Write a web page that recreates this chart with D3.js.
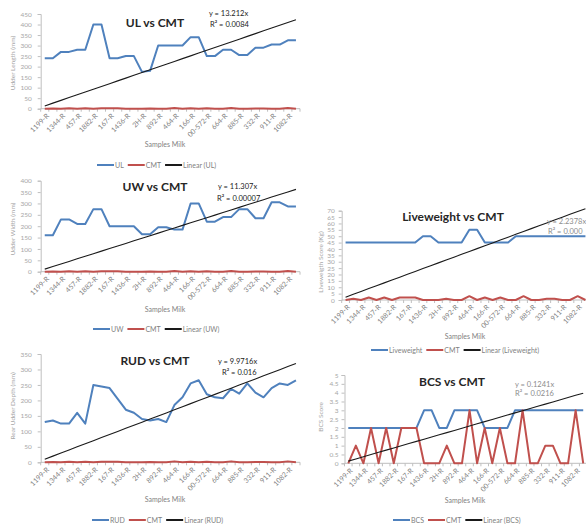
<!DOCTYPE html>
<html>
<head>
<meta charset="utf-8">
<script src="https://cdn.jsdelivr.net/npm/d3@7"></script>
<style>
body{margin:0;background:#fff;}
text{font-family:Lato,"Liberation Sans",sans-serif;}
</style>
</head>
<body>
<svg width="586" height="524"></svg>
<script>
// x axis labels (every second milk sample is labelled)
const sampleLabels=['1199-R','1344-R','457-R','1882-R','167-R','1436-R','2H-R','892-R','464-R','166-R','00-572-R','664-R','885-R','332-R','911-R','1082-R'];
const samples=d3.range(32);

const cmt=[0,1,0,2,0,2,0,2,2,2,0,0,0,1,0,0,3,0,2,0,2,0,0,3,0,0,1,1,0,0,3,0];
const ul=[240,240,270,270,280,280,400,400,240,240,250,250,175,180,300,300,300,300,340,340,250,250,280,280,255,255,290,290,305,305,325,325];
const uw=[160,160,230,230,210,210,275,275,200,200,200,200,165,165,195,195,185,185,300,300,220,220,240,240,275,275,235,235,305,305,287,287];
const rud=[130,135,125,125,160,125,250,245,240,205,170,160,140,135,140,130,185,210,255,265,220,210,207,237,222,255,225,210,240,255,250,265];
const liveweight=[45,45,45,45,45,45,45,45,45,45,50,50,45,45,45,45,55,55,45,45,45,45,50,50,50,50,50,50,50,50,50,50];
const bcs=[2,2,2,2,2,2,2,2,2,2,3,3,2,2,3,3,3,3,2,2,2,2,3,3,3,3,3,3,3,3,3,3];

const blue='#4f81bd', red='#c0504d', grey='#7f7f7f', axisCol='#bfbfbf';

const svg=d3.select('svg');

const charts=[
  {name:'UL',title:'UL vs CMT',values:ul,yMax:450,yStep:50,yTitle:'Udder Length (mm)',
   eq:'y = 13.212x',r2:'R² = 0.0084',eqCol:'#222',
   left:40.7,right:300,top:14,bottom:108.7,pad:6,
   titleXY:[155,26.5],eqXY:[209,16],r2XY:[210,27],yTitleXY:[15,63],xTitleXY:[165,147],legXY:[97,165]},
  {name:'UW',title:'UW vs CMT',values:uw,yMax:400,yStep:50,yTitle:'Udder Width (mm)',
   eq:'y = 11.307x',r2:'R² = 0.00007',eqCol:'#222',
   left:40.7,right:300,top:180.7,bottom:271.7,pad:6,
   titleXY:[155,191],eqXY:[218,188.5],r2XY:[217,201],yTitleXY:[15,229],xTitleXY:[165,312],legXY:[93,329]},
  {name:'RUD',title:'RUD vs CMT',values:rud,yMax:350,yStep:50,yTitle:'Rear Udder Depth (mm)',
   eq:'y = 9.9716x',r2:'R² = 0.016',eqCol:'#222',
   left:40.7,right:300,top:354,bottom:462.3,pad:6,
   titleXY:[155,365],eqXY:[218,363.5],r2XY:[222,374.5],yTitleXY:[15,406],xTitleXY:[165,502],legXY:[92,520]},
  {name:'Liveweight',title:'Liveweight vs CMT',values:liveweight,yMax:70,yStep:5,yTitle:'Liveweigth Score (Kg)',
   eq:'y = 2.2378x',r2:'R² = 0.000',eqCol:'#8c8c8c',
   left:341.7,right:589.3,top:210.7,bottom:300,pad:4,
   titleXY:[453,221],eqXY:[547,224],r2XY:[548,233.5],yTitleXY:[323,262],xTitleXY:[465,339],legXY:[371,350]},
  {name:'BCS',title:'BCS vs CMT',values:bcs,yMax:5,yStep:0.5,yTitle:'BCS Score',
   eq:'y = 0.1241x',r2:'R² = 0.0216',eqCol:'#8c8c8c',
   left:344.5,right:587,top:375,bottom:463.3,pad:3,
   titleXY:[452,386],eqXY:[515,387],r2XY:[515,395.5],yTitleXY:[323,417],xTitleXY:[465,503],legXY:[393,520]}
];

charts.forEach(drawChart);

function drawChart(c){
  const g=svg.append('g');
  const x=d3.scaleBand().domain(samples).range([c.left,c.right]);
  const bw=x.bandwidth();
  const cx=i=>x(i)+bw/2;
  const y=d3.scaleLinear().domain([0,c.yMax]).range([c.bottom,c.top]);

  // y axis
  const yAx=g.append('g')
    .attr('transform',`translate(${c.left},0)`)
    .call(d3.axisLeft(y)
      .tickValues(d3.range(0,c.yMax+c.yStep/2,c.yStep))
      .tickSize(3).tickPadding(c.pad)
      .tickFormat(d3.format('.1~f')));
  yAx.select('.domain').attr('stroke',axisCol);
  yAx.selectAll('line').attr('stroke',axisCol);
  yAx.selectAll('text').attr('fill','#a6a6a6').style('font-size','6.5px');

  // x axis line + tick marks between categories
  g.append('line')
    .attr('x1',c.left).attr('x2',c.right)
    .attr('y1',c.bottom).attr('y2',c.bottom)
    .attr('stroke',axisCol);
  g.selectAll(null).data(d3.range(samples.length+1)).join('line')
    .attr('x1',i=>c.left+i*bw).attr('x2',i=>c.left+i*bw)
    .attr('y1',c.bottom).attr('y2',c.bottom+3)
    .attr('stroke',axisCol);

  // x labels
  g.selectAll(null).data(sampleLabels).join('text')
    .attr('transform',(d,i)=>`translate(${cx(i*2)+3},${c.bottom+6}) rotate(-45)`)
    .attr('text-anchor','end')
    .attr('dy','0.35em')
    .attr('fill',grey)
    .style('font-size','7px')
    .text(d=>d);

  // series
  const line=d3.line().x((d,i)=>cx(i)).y(d=>y(d));
  g.append('path').datum(c.values)
    .attr('d',line).attr('fill','none')
    .attr('stroke',blue).attr('stroke-width',2).attr('stroke-linejoin','round');
  g.append('path').datum(cmt)
    .attr('d',line).attr('fill','none')
    .attr('stroke',red).attr('stroke-width',2).attr('stroke-linejoin','round');

  // linear trendline through origin
  const slope=d3.sum(c.values,(v,i)=>(i+1)*v)/d3.sum(c.values,(v,i)=>(i+1)*(i+1));
  g.append('path').datum(samples.map(i=>slope*(i+1)))
    .attr('d',line).attr('fill','none')
    .attr('stroke','#1a1a1a').attr('stroke-width',1.1);

  // titles
  g.append('text')
    .attr('x',c.titleXY[0]).attr('y',c.titleXY[1])
    .attr('text-anchor','middle')
    .attr('fill','#262626')
    .style('font-size','12px').style('font-weight','bold')
    .text(c.title);

  g.append('text').attr('x',c.eqXY[0]).attr('y',c.eqXY[1])
    .attr('fill',c.eqCol).style('font-size','7.5px').text(c.eq);
  g.append('text').attr('x',c.r2XY[0]).attr('y',c.r2XY[1])
    .attr('fill',c.eqCol).style('font-size','7.5px').text(c.r2);

  g.append('text')
    .attr('transform',`translate(${c.yTitleXY[0]},${c.yTitleXY[1]}) rotate(-90)`)
    .attr('text-anchor','middle')
    .attr('fill','#a6a6a6')
    .style('font-size','6.5px')
    .text(c.yTitle);

  g.append('text')
    .attr('x',c.xTitleXY[0]).attr('y',c.xTitleXY[1])
    .attr('text-anchor','middle')
    .attr('fill',grey)
    .style('font-size','7px')
    .text('Samples Milk');

  // legend
  const items=[[c.name,blue],['CMT',red],[`Linear (${c.name})`,'#1a1a1a']];
  let lx=c.legXY[0];
  const ly=c.legXY[1];
  items.forEach(([label,col])=>{
    g.append('line')
      .attr('x1',lx).attr('x2',lx+17)
      .attr('y1',ly).attr('y2',ly)
      .attr('stroke',col).attr('stroke-width',2);
    const t=g.append('text')
      .attr('x',lx+18).attr('y',ly+2.5)
      .attr('fill',grey)
      .style('font-size','7px')
      .text(label);
    lx+=18+t.node().getComputedTextLength()+4;
  });
}
</script>
</body>
</html>
